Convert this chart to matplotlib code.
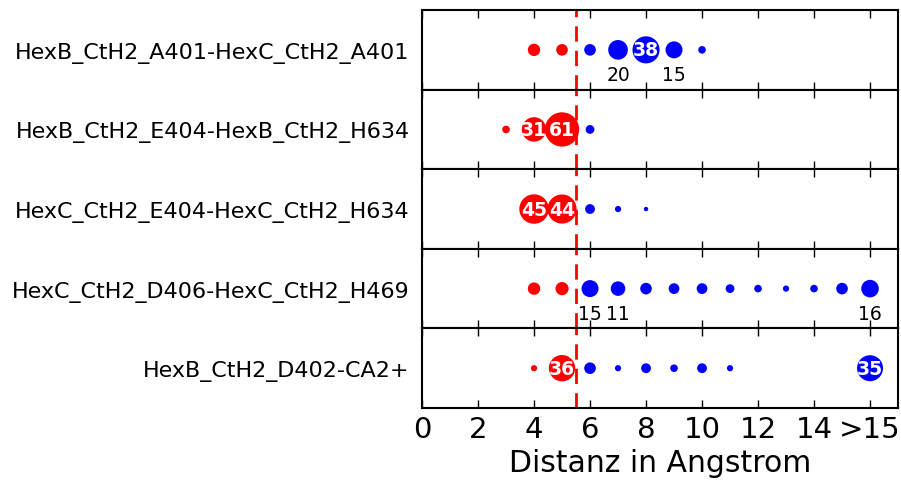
import matplotlib
matplotlib.use("Agg")
import matplotlib.pyplot as plt

# Distance bins (16 stands for ">15")
distances = [3, 4, 5, 6, 7, 8, 9, 10, 11, 12, 13, 14, 15, 16]

pair_names = [
    "HexB_CtH2_A401-HexC_CtH2_A401",
    "HexB_CtH2_E404-HexB_CtH2_H634",
    "HexC_CtH2_E404-HexC_CtH2_H634",
    "HexC_CtH2_D406-HexC_CtH2_H469",
    "HexB_CtH2_D402-CA2+",
]

# Frequency per distance bin for each pair
counts_a401 = [0, 8, 7, 7, 20, 38, 15, 3, 0, 0, 0, 0, 0, 0]
counts_e404_b = [3, 31, 61, 4, 0, 0, 0, 0, 0, 0, 0, 0, 0, 0]
counts_e404_c = [0, 45, 44, 5, 2, 1, 0, 0, 0, 0, 0, 0, 0, 0]
counts_d406 = [0, 8, 9, 15, 11, 7, 6, 6, 4, 3, 2, 3, 7, 16]
counts_d402 = [0, 2, 36, 7, 2, 5, 3, 5, 2, 0, 0, 0, 0, 35]
all_counts = [counts_a401, counts_e404_b, counts_e404_c, counts_d406, counts_d402]

xtick_values = [0, 2, 4, 6, 8, 10, 12, 14, 16]
xtick_labels = ["0", "2", "4", "6", "8", "10", "12", "14", ">15"]
cutoff = 5.5

fig, axes = plt.subplots(5, 1, sharex=True, figsize=(9.01, 4.81), dpi=100,
                         gridspec_kw=dict(hspace=0))
fig.subplots_adjust(left=0.4684, right=0.9967, top=0.977, bottom=0.1497)

for ax, name, counts in zip(axes, pair_names, all_counts):
    ax.axvline(cutoff, color="red", lw=2, ls=(0, (5.5, 3.3)), zorder=1)
    for d, c in zip(distances, counts):
        if c <= 0:
            continue
        col = "red" if d < cutoff else "blue"
        ax.scatter([d], [0], s=10 * c, color=col, edgecolors="none", zorder=3)
        if c > 25:
            ax.text(d, 0, str(c), color="white", fontsize=13.5, fontweight="bold",
                    ha="center", va="center", zorder=4)
        elif c >= 10:
            ax.text(d, -0.63, str(c), color="black", fontsize=13.5,
                    ha="center", va="center", zorder=4)
    ax.set_ylim(-1, 1)
    ax.set_xlim(0, 17)
    ax.set_yticks([0])
    ax.set_yticklabels([name], fontsize=16)
    ax.tick_params(axis="y", length=0, pad=9)
    ax.tick_params(axis="x", direction="in", top=True, bottom=True,
                   length=6, width=1)
    for sp in ax.spines.values():
        sp.set_linewidth(1.5)

axes[-1].set_xticks(xtick_values)
axes[-1].set_xticklabels(xtick_labels, fontsize=21)
axes[-1].tick_params(axis="x", pad=5)
axes[-1].set_xlabel("Distanz in Angstrom", fontsize=21.5, labelpad=4)

fig.savefig("out.png", dpi=100)
